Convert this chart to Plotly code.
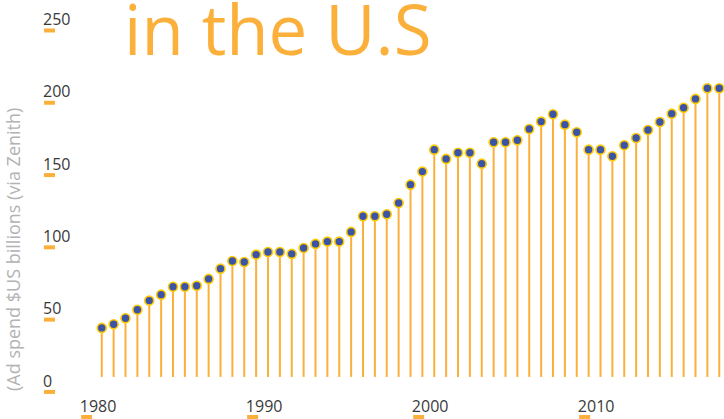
import plotly.graph_objects as go

# ---- data ----
point_index = list(range(53))
ad_spend = [33.9, 36.4, 40.6, 46.5, 52.8, 56.9, 62.4, 62.4, 63.1, 67.8,
            74.9, 80.2, 79.5, 84.6, 86.4, 86.4, 85.1, 89.2, 92.0, 93.6,
            93.6, 100.3, 111.1, 111.1, 112.5, 120.3, 133.0, 142.0, 157.2, 150.8,
            155.1, 155.1, 147.5, 162.3, 162.3, 163.7, 171.5, 176.6, 181.7, 174.5,
            169.2, 157.2, 157.2, 152.6, 160.2, 165.3, 170.8, 176.3, 182.1, 186.2,
            192.3, 199.7, 199.7]
y_tick_values = [0, 50, 100, 150, 200, 250]
y_tick_labels = ["0", "50", "100", "150", "200", "250"]
x_tick_years = [1980, 1990, 2000, 2010]
x_tick_labels = ["1980", "1990", "2000", "2010"]
title_text = "in the U.S"
y_title = "(Ad spend $US billions (via Zenith)"

ORANGE = "#FBB03B"
BLUE = "#3C54A5"
GOLD = "#FFCB05"
FONT = "Open Sans"
TICK_COLOR = "#3a3a3a"

fig = go.Figure()
fig.add_trace(go.Scatter(
    x=point_index, y=ad_spend, mode="markers",
    marker=dict(size=9, color=BLUE, line=dict(color=GOLD, width=1.6)),
    error_y=dict(type="data", symmetric=False, array=[0] * len(ad_spend),
                 arrayminus=ad_spend, color=ORANGE, thickness=2, width=0),
    showlegend=False, hoverinfo="y", cliponaxis=False,
))
# helper trace so the year axis is active
fig.add_trace(go.Scatter(
    x=x_tick_years, y=[None] * len(x_tick_years), xaxis="x2", mode="markers",
    showlegend=False, hoverinfo="skip",
))

shapes = []
for v in y_tick_values:
    shapes.append(dict(type="rect", xref="paper", yref="y",
                       xsizemode="pixel", xanchor=0, x0=4, x1=15,
                       ysizemode="pixel", yanchor=v, y0=-13, y1=-17,
                       fillcolor=ORANGE, line=dict(width=0), layer="above"))
for yr in x_tick_years:
    shapes.append(dict(type="rect", xref="x2", yref="paper",
                       xsizemode="pixel", xanchor=yr, x0=-17, x1=-6,
                       ysizemode="pixel", yanchor=0, y0=-20, y1=-25,
                       fillcolor=ORANGE, line=dict(width=0), layer="above"))

fig.update_layout(
    width=724, height=419,
    margin=dict(l=40, r=0, t=0, b=24, autoexpand=False),
    paper_bgcolor="white", plot_bgcolor="white",
    font=dict(family=FONT, color=TICK_COLOR, size=16),
    showlegend=False,
    xaxis=dict(range=[-5.2, 52.4], visible=False, fixedrange=True, automargin=False),
    xaxis2=dict(overlaying="x", side="bottom", anchor="y", automargin=False,
                range=[1976.5, 2017.7], tickvals=x_tick_years, ticktext=x_tick_labels,
                showgrid=False, zeroline=False, showline=False, ticks="",
                tickfont=dict(family=FONT, size=16, color=TICK_COLOR)),
    yaxis=dict(range=[-12.5, 260.7], tickvals=y_tick_values, ticktext=y_tick_labels,
               automargin=False,
               ticklabelposition="inside", ticklabeloverflow="allow", ticklabelshift=4,
               showgrid=False, zeroline=False, showline=False, ticks="",
               tickfont=dict(family=FONT, size=16, color=TICK_COLOR)),
    shapes=shapes,
    annotations=[
        dict(text=title_text, xref="paper", yref="paper",
             x=(122 - 40) / 684, y=1, xanchor="left", yanchor="top", yshift=21,
             showarrow=False, font=dict(family=FONT, size=69, color=ORANGE)),
        dict(text=y_title, xref="paper", yref="paper", textangle=-90,
             x=-27 / 684, y=1 - 250 / 395, xanchor="center", yanchor="middle",
             showarrow=False, font=dict(family=FONT, size=18, color="#b3b3b3")),
    ],
)

fig.write_html("out.html", config={"displayModeBar": False},
               post_script="document.body.style.margin='0';")
